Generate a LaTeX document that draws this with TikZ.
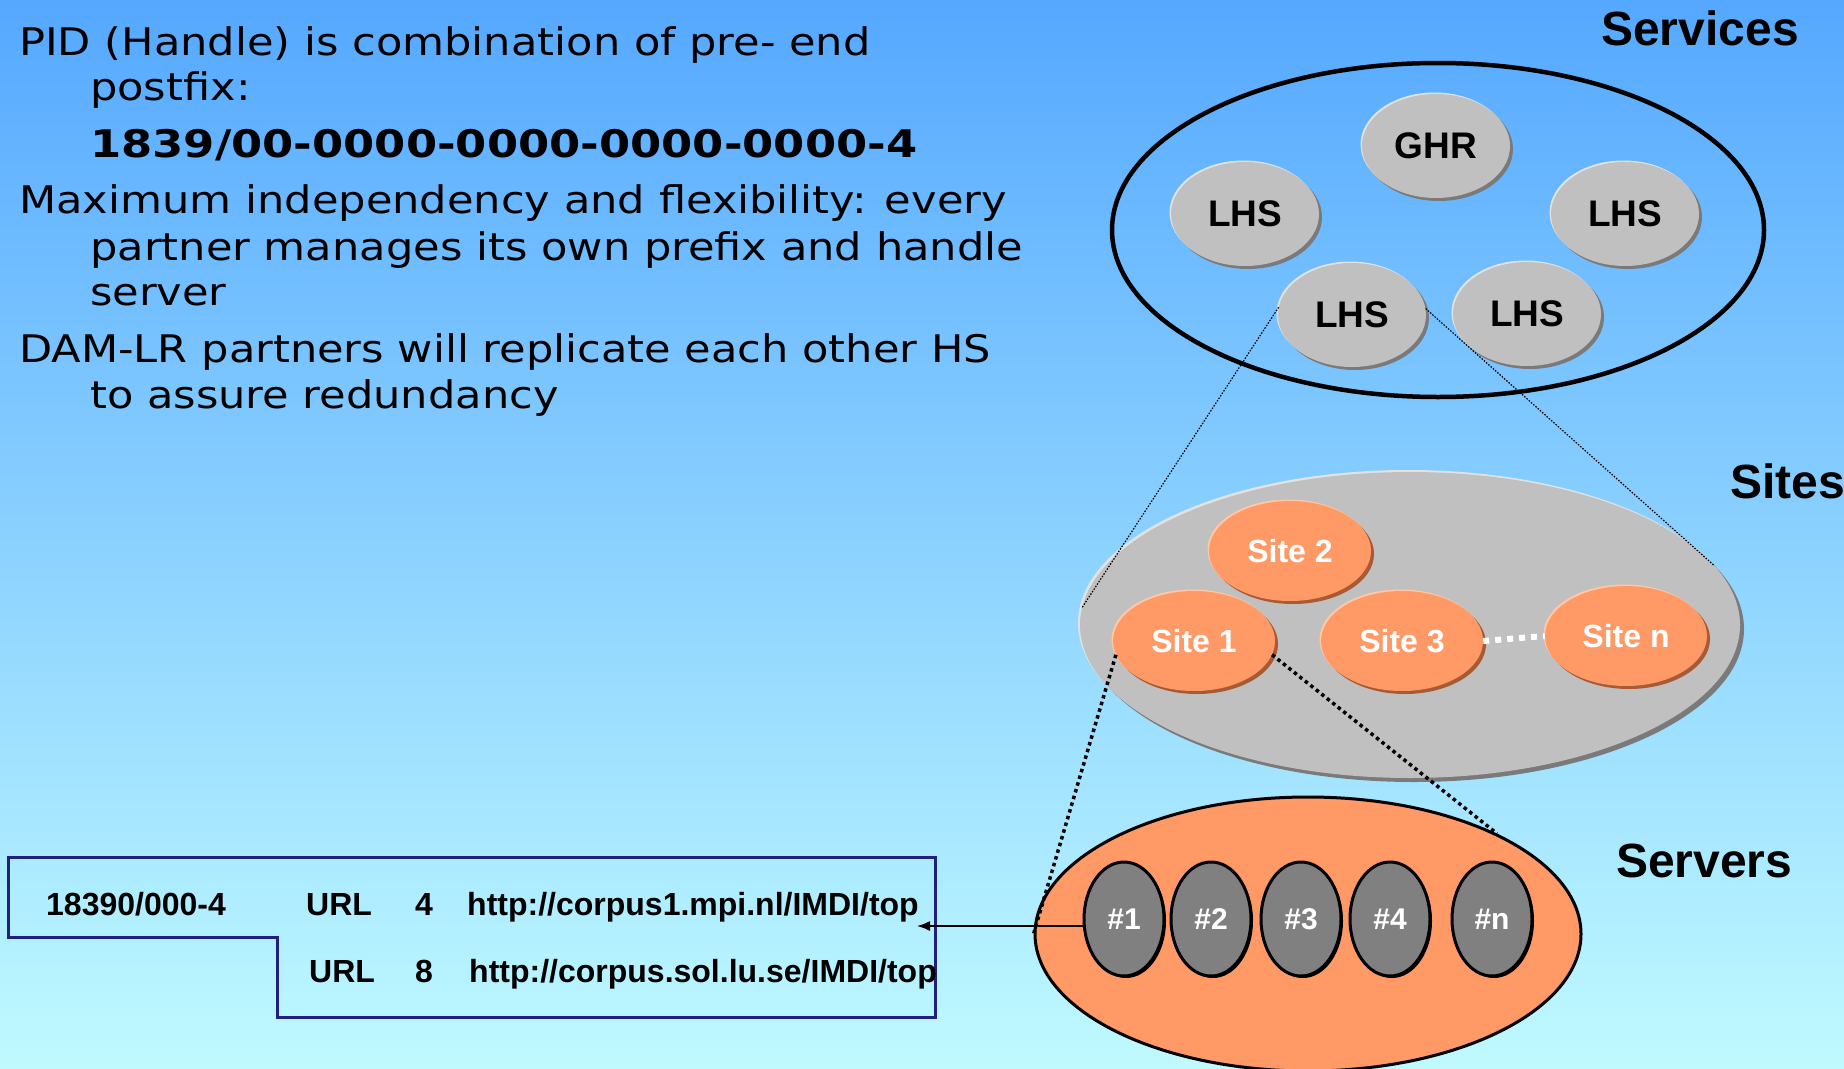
\documentclass[tikz,border=0pt]{standalone}
\usepackage{fontspec}
\usepackage{tikz}
\usetikzlibrary{arrows.meta,shapes.geometric,shadows}
\newfontfamily\bodyfont[FakeStretch=1.135]{DejaVu Sans}
\newfontfamily\pidfont[FakeStretch=1.18]{DejaVu Sans Bold}
\newfontfamily\labelfont{Liberation Sans}
\definecolor{BgTop}{HTML}{55A8FF}
\definecolor{BgMid}{HTML}{A0DAFF}
\definecolor{BgBot}{HTML}{C0FAFF}
\definecolor{SvcGray}{HTML}{C0C0C0}
\definecolor{SvcDark}{HTML}{7A7A7A}
\definecolor{SvcLight}{HTML}{E2E2E2}
\definecolor{SiteOrange}{HTML}{FF9966}
\definecolor{SiteDark}{HTML}{A85A35}
\definecolor{SiteLight}{HTML}{FFC8A8}
\definecolor{SrvGray}{HTML}{808080}
\definecolor{TableBlue}{HTML}{202080}
\newcommand{\fs}[1]{\fontsize{#1}{1.2\dimexpr#1pt\relax}\selectfont}

\begin{document}
\begin{tikzpicture}[x=1pt,y=-1pt,
  body/.style={anchor=base west,inner sep=0,font=\bodyfont\fs{38}},
  layer/.style={anchor=base west,inner sep=0,font=\labelfont\bfseries\fs{48}},
  cell/.style={anchor=base west,inner sep=0,font=\labelfont\bfseries\fs{32}},
  svc/.style={ellipse,inner sep=0,fill=SvcGray,minimum width=148pt,minimum height=104pt,
    font=\labelfont\bfseries\fs{37},
    general shadow={shadow xshift=3pt,shadow yshift=-3pt,fill=SvcDark},
    general shadow={shadow xshift=-1.5pt,shadow yshift=1.5pt,fill=SvcLight}},
  sitebox/.style={ellipse,inner sep=0,fill=SiteOrange,minimum width=162pt,minimum height=100pt,
    text=white,font=\labelfont\bfseries\fs{32},
    general shadow={shadow xshift=3pt,shadow yshift=-3pt,fill=SiteDark},
    general shadow={shadow xshift=-1.5pt,shadow yshift=1.5pt,fill=SiteLight}},
  srv/.style={ellipse,inner sep=0,draw=black,line width=3pt,fill=SrvGray,
    minimum width=80pt,minimum height=114pt,text=white,font=\labelfont\bfseries\fs{30},
    general shadow={shadow xshift=2pt,shadow yshift=-2pt,fill=black}},
  thin/.style={line width=1.2pt,dash pattern=on 1.5pt off 1.5pt},
  thick dots/.style={line width=3.5pt,dash pattern=on 3.5pt off 3.5pt},
  arr/.style={-{Latex[length=13pt,width=10pt]},line width=1.5pt}]
\useasboundingbox (0,0) rectangle (1844,1068);
\clip (0,0) rectangle (1844,1068);
\fill[top color=BgTop,middle color=BgMid,bottom color=BgBot] (0,0) rectangle (1844,1068);

% text on the left
\node[body] (pid1) at (19,55) {PID (Handle) is combination of pre- end};
\node[body] (pid2) at (90,100) {postfix:};
\node[body,font=\pidfont\fs{38}] (pidnum) at (90,157) {1839/00-0000-0000-0000-0000-4};
\node[body] (flex1) at (19,213) {Maximum independency and flexibility: every};
\node[body] (flex2) at (90,260) {partner manages its own prefix and handle};
\node[body] (flex3) at (90,305) {server};
\node[body] (rep1) at (19,362) {DAM-LR partners will replicate each other HS};
\node[body] (rep2) at (90,408) {to assure redundancy};

% layer titles
\node[layer] (tservices) at (1601,45) {Services};
\node[layer] (tsites) at (1730,498) {Sites};
\node[layer] (tservers) at (1616,877) {Servers};

% services
\node[ellipse,draw=black,line width=4.5pt,minimum width=652pt,minimum height=334pt] (services) at (1438,230) {};
\node[svc] (ghr) at (1436,146) {GHR};
\node[svc] (lhs1) at (1245,214) {LHS};
\node[svc] (lhs2) at (1625,214) {LHS};
\node[svc] (lhs3) at (1352,315) {LHS};
\node[svc] (lhs4) at (1527,314) {LHS};

% sites
\node[ellipse,fill=SvcGray,minimum width=660pt,minimum height=306pt,
  general shadow={shadow xshift=4pt,shadow yshift=-4pt,fill=SvcDark},
  general shadow={shadow xshift=-2pt,shadow yshift=2pt,fill=SvcLight}] (sites) at (1410,625) {};
\node[sitebox] (site2) at (1290,551) {Site 2};
\node[sitebox] (site1) at (1194,641) {Site 1};
\node[sitebox] (site3) at (1402,641) {Site 3};
\node[sitebox] (siten) at (1626,636) {Site n};
\draw[white,line width=6pt,dash pattern=on 6pt off 6pt] (site3.east) -- (siten.west);

\draw[thin] (lhs3.174) -- (sites.177);
\draw[thin] (lhs3.5) -- (sites.11);

% servers
\node[ellipse,draw=black,line width=3pt,fill=SiteOrange,minimum width=546pt,minimum height=274pt] (servers) at (1308,934) {};
\node[srv] (s1) at (1124,919) {\#1};
\node[srv] (s2) at (1211,919) {\#2};
\node[srv] (s3) at (1301,919) {\#3};
\node[srv] (s4) at (1390,919) {\#4};
\node[srv] (sn) at (1492,919) {\#n};

\draw[thick dots] (site1.190) -- (servers.180);
\draw[thick dots] (site1.350) -- (servers.28);

% handle record
\draw[TableBlue,line width=3pt] (8,857) -- (935,857) -- (935,1017) -- (277,1017)
  -- (277,937) -- (8,937) -- cycle;
\node[cell] (hdl) at (46,915) {18390/000-4};
\node[cell] (type1) at (306,915) {URL};
\node[cell] (idx1) at (415,915) {4};
\node[cell] (url1) at (467,915) {http://corpus1.mpi.nl/IMDI/top};
\node[cell] (type2) at (309,982) {URL};
\node[cell] (idx2) at (415,982) {8};
\node[cell] (url2) at (469,982) {http://corpus.sol.lu.se/IMDI/top};
\coordinate (urltip) at (917,926);
\draw[arr] (s1.west |- urltip) -- (urltip);
\end{tikzpicture}
\end{document}
